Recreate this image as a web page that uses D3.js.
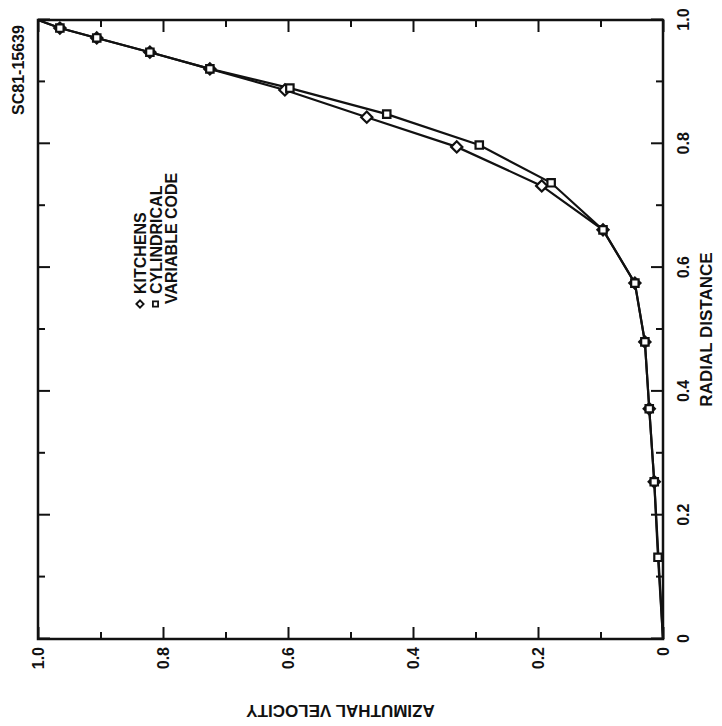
<!DOCTYPE html>
<html lang="en">
<head>
    <meta charset="UTF-8">
    <title>Azimuthal velocity vs radial distance</title>
    <script src="https://d3js.org/d3.v7.min.js"></script>
    <style>
        body {
            margin: 0;
            background: #fff;
        }
        svg text {
            font-family: "Liberation Sans", Arial, sans-serif;
            font-weight: bold;
            fill: #111;
        }
        .axis path, .axis line {
            stroke: #111;
        }
    </style>
</head>
<body>
    <svg id="chart" width="722" height="726"></svg>

    <script>
        // Kitchens (diamonds)
        const kitchensRadial = [0, 0.254, 0.372, 0.480, 0.575, 0.661, 0.732, 0.795, 0.843, 0.887, 0.921, 0.948, 0.971, 0.987, 1.0];
        const kitchensVelocity = [0, 0.014, 0.022, 0.029, 0.045, 0.096, 0.194, 0.330, 0.474, 0.605, 0.725, 0.821, 0.906, 0.965, 1.0];

        // Cylindrical variable code (squares)
        const cylRadial = [0, 0.132, 0.254, 0.372, 0.480, 0.575, 0.661, 0.737, 0.798, 0.848, 0.890, 0.921, 0.948, 0.971, 0.987, 1.0];
        const cylVelocity = [0, 0.008, 0.014, 0.022, 0.029, 0.045, 0.096, 0.179, 0.294, 0.442, 0.597, 0.725, 0.821, 0.906, 0.965, 1.0];

        const majorTicks = [0, 0.2, 0.4, 0.6, 0.8, 1.0];
        const minorTicks = [0.1, 0.3, 0.5, 0.7, 0.9];
        const legendLabels = [["KITCHENS"], ["CYLINDRICAL", "VARIABLE CODE"]];
        const xTitle = "RADIAL DISTANCE";
        const yTitle = "AZIMUTHAL VELOCITY";
        const figId = "SC81-15639";

        // chart is drawn upright then turned a quarter turn counter-clockwise
        const W = 619, H = 625;
        const svg = d3.select("#chart");
        svg.append("rect").attr("width", 722).attr("height", 726).attr("fill", "#fff");

        const g = svg.append("g")
            .attr("transform", "translate(38,639) rotate(-90)");

        const x = d3.scaleLinear().domain([0, 1]).range([0, W]);
        const y = d3.scaleLinear().domain([0, 1]).range([H, 0]);
        const fmt = d => d === 0 ? "0" : d3.format(".1f")(d);

        // frame
        g.append("rect")
            .attr("width", W).attr("height", H)
            .attr("fill", "none").attr("stroke", "#111").attr("stroke-width", 2.5);

        function addAxis(axis, transform, size, values, labels, pad) {
            const a = g.append("g")
                .attr("class", "axis")
                .attr("transform", transform)
                .call(axis.tickValues(values).tickSizeInner(-size).tickSizeOuter(0)
                    .tickPadding(pad).tickFormat(labels ? fmt : ""));
            a.select(".domain").remove();
            a.selectAll("line").attr("stroke-width", 2);
            a.selectAll("text").style("font-size", "16px").attr("fill", "#111");
            return a;
        }

        // radial axis (bottom, ends up on the right)
        addAxis(d3.axisBottom(x), `translate(0,${H})`, 12, majorTicks, true, 15);
        addAxis(d3.axisBottom(x), `translate(0,${H})`, 7, minorTicks, false, 0);
        addAxis(d3.axisTop(x), "translate(0,0)", 12, majorTicks, false, 0);
        addAxis(d3.axisTop(x), "translate(0,0)", 7, minorTicks, false, 0);

        // velocity axis (left, ends up at the bottom)
        addAxis(d3.axisLeft(y), "translate(0,0)", 12, majorTicks, true, 8);
        addAxis(d3.axisLeft(y), "translate(0,0)", 7, minorTicks, false, 0);
        addAxis(d3.axisRight(y), `translate(${W},0)`, 12, majorTicks, false, 0);
        addAxis(d3.axisRight(y), `translate(${W},0)`, 7, minorTicks, false, 0);

        // axis titles
        g.append("text")
            .attr("x", W / 2).attr("y", H + 49)
            .attr("text-anchor", "middle")
            .style("font-size", "17px")
            .text(xTitle);

        g.append("text")
            .attr("transform", `translate(-66,${H / 2 - 10}) rotate(-90)`)
            .attr("text-anchor", "middle")
            .style("font-size", "17px")
            .text(yTitle);

        g.append("text")
            .attr("x", W - 50).attr("y", -14)
            .attr("text-anchor", "middle")
            .style("font-size", "16px")
            .text(figId);

        // series
        const kitchens = kitchensRadial.map((r, i) => ({ r, v: kitchensVelocity[i] }));
        const cyl = cylRadial.map((r, i) => ({ r, v: cylVelocity[i] }));

        const line = d3.line().x(d => x(d.r)).y(d => y(d.v));

        [kitchens, cyl].forEach(s => {
            g.append("path")
                .datum(s)
                .attr("fill", "none")
                .attr("stroke", "#111")
                .attr("stroke-width", 2.2)
                .attr("d", line);
        });

        const diamond = d3.symbol().type(d3.symbolDiamond2).size(80);
        const square = d3.symbol().type(d3.symbolSquare2).size(70);

        g.selectAll(".k-mark")
            .data(kitchens.slice(1, -1))
            .join("path")
            .attr("class", "k-mark")
            .attr("transform", d => `translate(${x(d.r)},${y(d.v)})`)
            .attr("d", diamond)
            .attr("fill", "#fff").attr("stroke", "#111").attr("stroke-width", 2.2);

        g.selectAll(".c-mark")
            .data(cyl.slice(1, -1))
            .join("path")
            .attr("class", "c-mark")
            .attr("transform", d => `translate(${x(d.r)},${y(d.v)})`)
            .attr("d", square)
            .attr("fill", "#fff").attr("stroke", "#111").attr("stroke-width", 2.2);

        // legend
        const legend = g.append("g").attr("transform", "translate(335,0)");
        const symbols = [diamond, square];
        legendLabels.forEach((lines, i) => {
            const yy = 102 + i * 15.5;
            legend.append("path")
                .attr("transform", `translate(0,${yy})`)
                .attr("d", symbols[i].size(34))
                .attr("fill", "#fff").attr("stroke", "#111").attr("stroke-width", 1.8);
            lines.forEach((t, j) => {
                legend.append("text")
                    .attr("x", j === 0 ? 10 : 0)
                    .attr("y", yy + j * 15.5 + 6)
                    .style("font-size", "16px")
                    .text(t);
            });
        });
    </script>
</body>
</html>
